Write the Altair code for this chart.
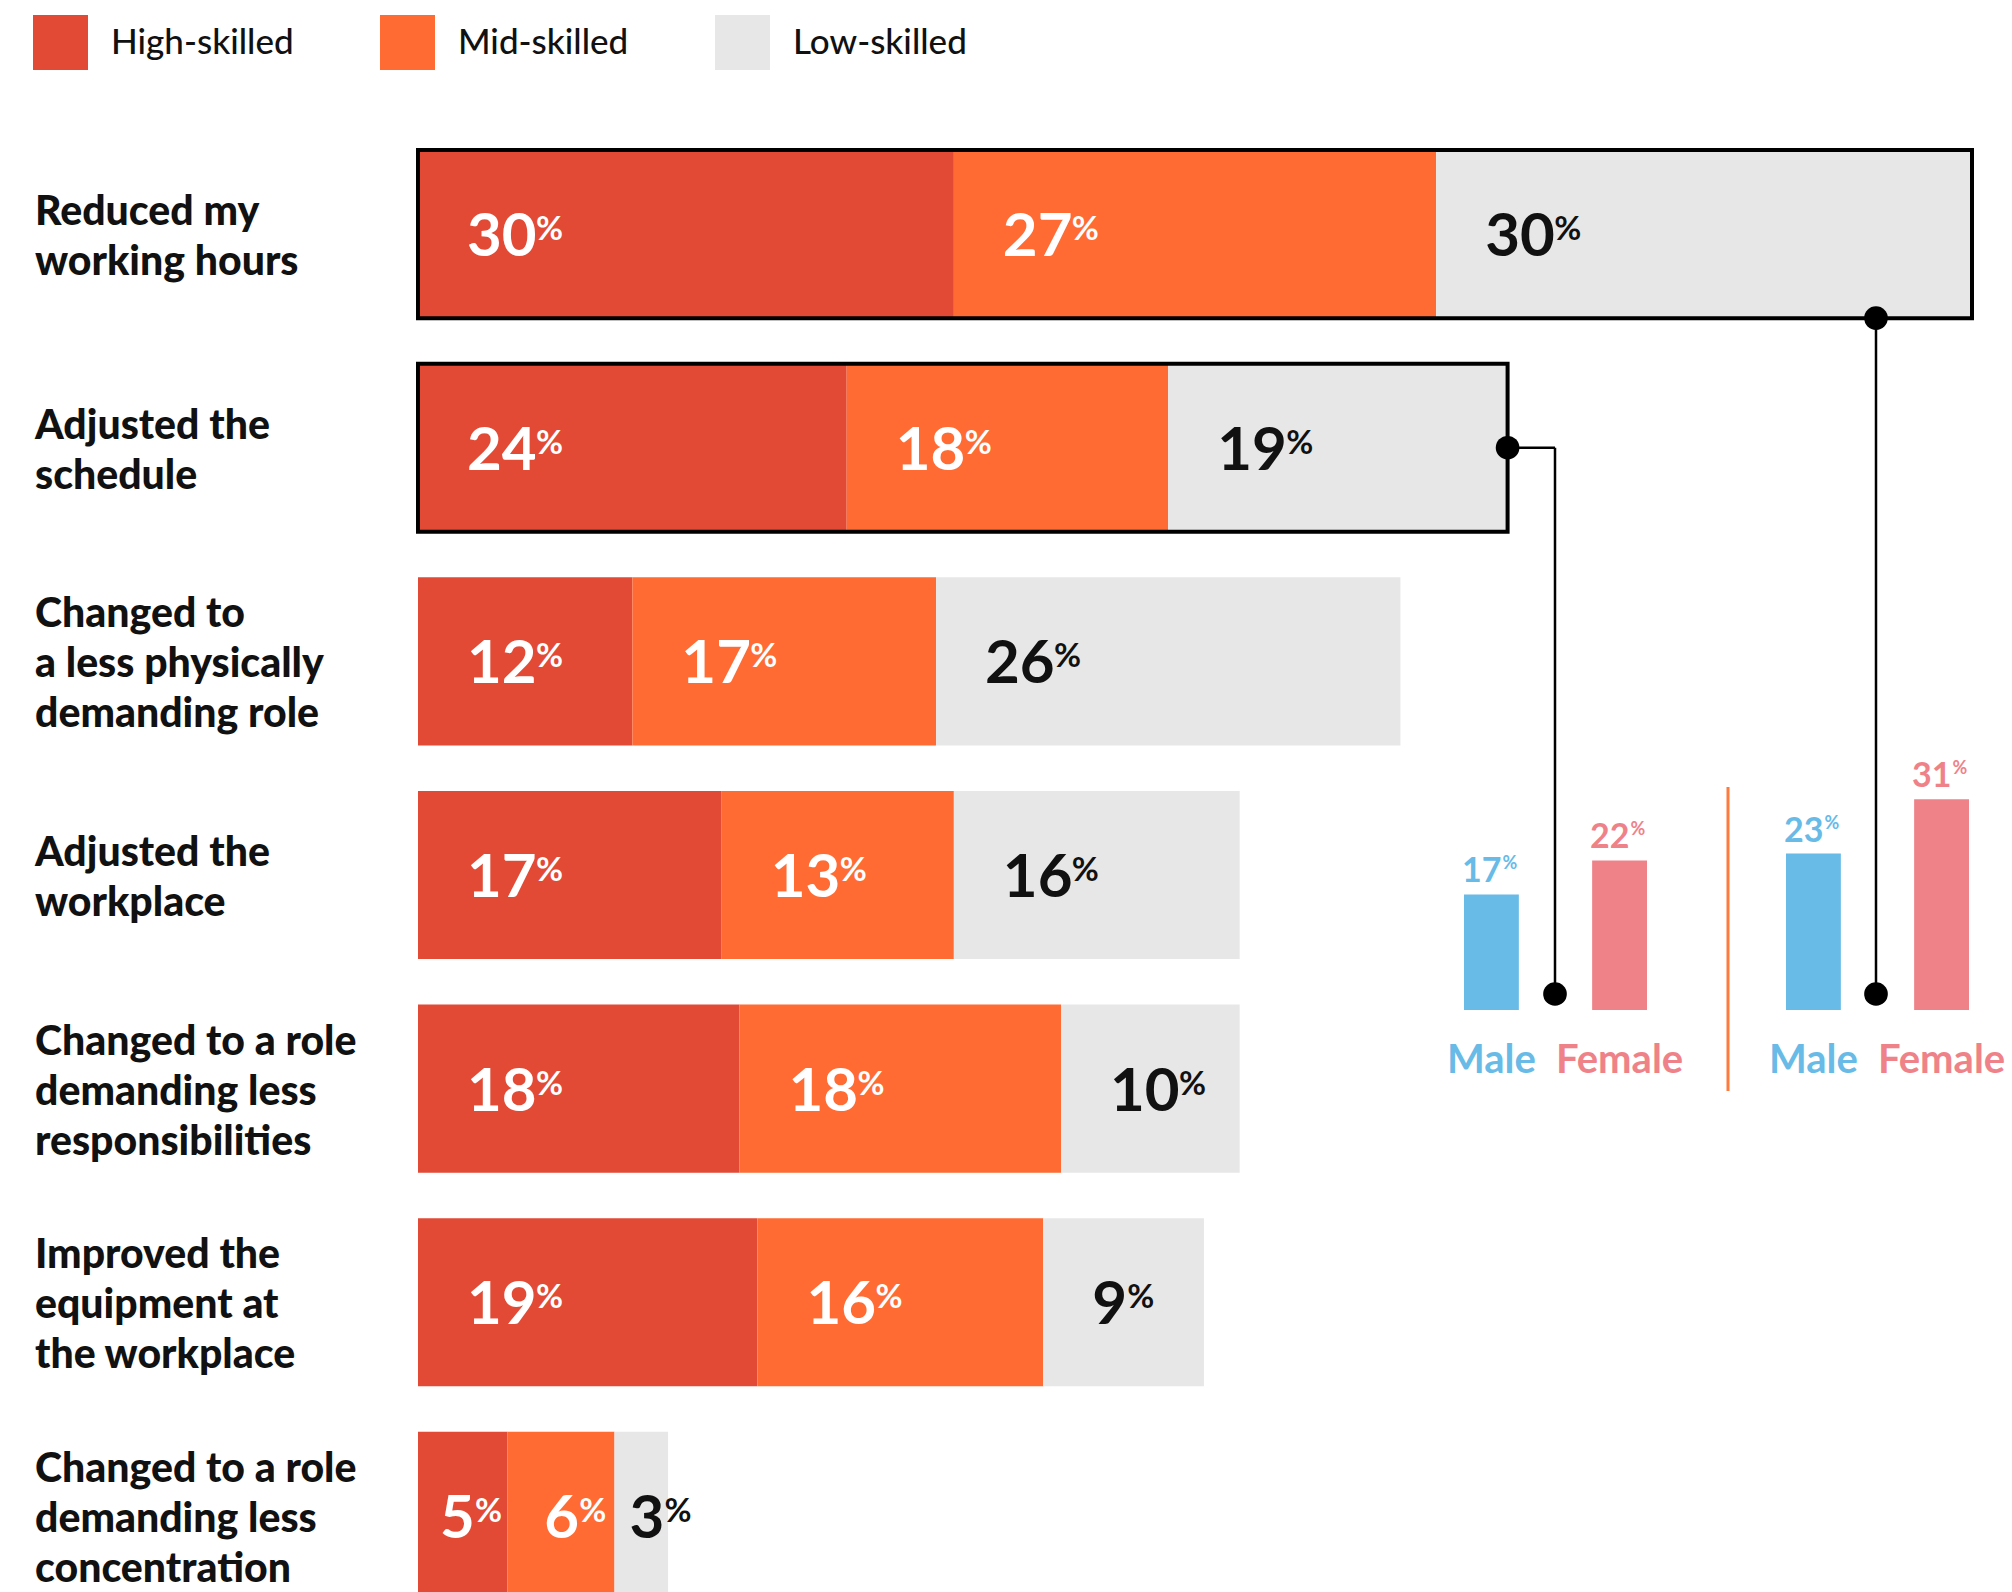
import altair as alt
import pandas as pd

# ---------------- data ----------------
categories = [
    "Reduced my\nworking hours",
    "Adjusted the\nschedule",
    "Changed to\na less physically\ndemanding role",
    "Adjusted the\nworkplace",
    "Changed to a role\ndemanding less\nresponsibilities",
    "Improved the\nequipment at\nthe workplace",
    "Changed to a role\ndemanding less\nconcentration",
]
skills = ["High-skilled", "Mid-skilled", "Low-skilled"]
high = [30, 24, 12, 17, 18, 19, 5]
mid = [27, 18, 17, 13, 18, 16, 6]
low = [30, 19, 26, 16, 10, 9, 3]
skill_colors = ["#E24A35", "#FF6B33", "#E7E7E7"]
highlighted = [categories[0], categories[1]]

sexes = ["Male", "Female"]
gender_groups = ["Adjusted the schedule", "Reduced my working hours"]
male_pct = [17, 23]
female_pct = [22, 31]
sex_colors = ["#68BAE7", "#EF8289"]

rows = []
for i, c in enumerate(categories):
    for j, (s, v) in enumerate(zip(skills, [high[i], mid[i], low[i]])):
        rows.append({"category": c, "row": i, "skill": s, "value": v, "order": j})
df = pd.DataFrame(rows)

labels_df = pd.DataFrame({"category": categories,
                          "nlines": [c.count("\n") + 1 for c in categories]})

grows = []
for k, g in enumerate(gender_groups):
    grows.append({"group": g, "sex": "Male", "value": male_pct[k]})
    grows.append({"group": g, "sex": "Female", "value": female_pct[k]})
gdf = pd.DataFrame(grows)

FONT = "Lato"
LAST = len(categories) - 1
BAND_HALF = 84
LINE_H = 50

# ---------------- scales ----------------
def X(field):
    return alt.X(field, scale=alt.Scale(domain=[0, 87], range=[418, 1972], nice=False, zero=True), axis=None)

def Y(**kw):
    return alt.Y("category:N",
                 scale=alt.Scale(type="band", domain=categories, range=[150, 1600],
                                 paddingInner=0.213, paddingOuter=0),
                 axis=None, **kw)

base = alt.Chart(df).transform_stack(
    stack="value", groupby=["category"], sort=[alt.SortField("order")], as_=["x0", "x1"]
)

bars = base.mark_bar().encode(
    x=X("x0:Q"), x2="x1:Q", y=Y(),
    color=alt.Color(
        "skill:N",
        scale=alt.Scale(domain=skills, range=skill_colors),
        legend=alt.Legend(
            orient="none", legendX=33, legendY=15, direction="horizontal", title=None,
            symbolType="square", symbolSize=3025, symbolStrokeWidth=0, symbolOpacity=1,
            labelFont=FONT, labelFontSize=35, labelFontWeight=500, labelColor="#111111",
            labelLimit=600, labelOffset=23, columnPadding=86, padding=0,
        ),
    ),
)

box = (
    alt.Chart(df)
    .transform_filter(alt.FieldOneOfPredicate(field="category", oneOf=highlighted))
    .transform_aggregate(total="sum(value)", groupby=["category"])
    .mark_bar(fillOpacity=0, stroke="black", strokeWidth=4)
    .encode(x=X("total:Q"), y=Y())
)

txtcol = alt.when(alt.datum.skill == "Low-skilled").then(alt.value("#111111")).otherwise(alt.value("white"))

def num_layer(expr, dx):
    return base.transform_filter(expr).mark_text(
        align="left", baseline="alphabetic", dx=dx, dy=22, font=FONT, fontSize=60, fontWeight="bold"
    ).encode(x=X("x0:Q"), y=Y(), text="value:Q", color=txtcol)

def pct_layer(expr, dx):
    return base.transform_filter(expr).mark_text(
        align="left", baseline="alphabetic", dx=dx, dy=6, font=FONT, fontSize=33, fontWeight="bold", text="%"
    ).encode(x=X("x0:Q"), y=Y(), color=txtcol)

num_layers = [
    num_layer(f"datum.row < {LAST}", 49),
    pct_layer(f"datum.row < {LAST} && datum.value >= 10", 118),
    pct_layer(f"datum.row < {LAST} && datum.value < 10", 84),
]
# narrow last row: tighter, individually placed labels
for s, pad in zip(skills, [22, 37, 15]):
    num_layers.append(num_layer(f"datum.row == {LAST} && datum.skill == '{s}'", pad))
    num_layers.append(pct_layer(f"datum.row == {LAST} && datum.skill == '{s}'", pad + 35))

def cat_label_layer(n):
    return alt.Chart(labels_df).transform_filter(alt.FieldEqualPredicate(field="nlines", equal=n)).mark_text(
        align="left", baseline="middle", lineBreak="\n", font=FONT, fontSize=41, fontWeight=900,
        lineHeight=LINE_H, color="#111111", dy=-(n - 1) * LINE_H / 2 + 4
    ).encode(x=alt.value(35), y=Y(), text="category:N")

cat_labels = [cat_label_layer(2), cat_label_layer(3)]


# ---------------- gender mini bars ----------------
def gender_layers(gname, rng):
    gx = alt.Scale(type="band", domain=sexes, range=rng, paddingInner=0.572, paddingOuter=0)
    gy = alt.Scale(domain=[0, 31], range=[1010, 799.2], nice=False, zero=True)
    gcol = alt.Color("sex:N", scale=alt.Scale(domain=sexes, range=sex_colors), legend=None)
    b = alt.Chart(gdf).transform_filter(alt.FieldEqualPredicate(field="group", equal=gname))
    X_ = alt.X("sex:N", scale=gx, axis=None)
    Y_ = alt.Y("value:Q", scale=gy, axis=None)
    gb = b.mark_bar().encode(x=X_, y=Y_, color=gcol)
    gn = b.mark_text(align="right", baseline="alphabetic", dx=10, dy=-12, font=FONT,
                     fontSize=34, fontWeight="bold").encode(x=X_, y=Y_, text="value:Q", color=gcol)
    gp = b.mark_text(align="left", baseline="alphabetic", dx=11, dy=-25, font=FONT,
                     fontSize=18, fontWeight="bold", text="%").encode(x=X_, y=Y_, color=gcol)
    gl = b.mark_text(align="center", baseline="alphabetic", font=FONT, fontSize=40,
                     fontWeight="bold").encode(x=X_, y=alt.value(1073), text="sex:N", color=gcol)
    return [gb, gn, gp, gl]

g1 = gender_layers(gender_groups[0], [1464, 1647])
g2 = gender_layers(gender_groups[1], [1786, 1969])

# ---------------- connectors ----------------
one = pd.DataFrame({"k": [0]})
divider = alt.Chart(one).mark_rule(color="#FF7A3D", strokeWidth=3).encode(
    x=alt.value(1728), y=alt.value(787), y2=alt.value(1091)
)

c1 = alt.Chart(pd.DataFrame({"category": [categories[0]]}))
c1_rule = c1.mark_rule(color="black", strokeWidth=2.5).encode(
    x=alt.value(1876), y=Y(bandPosition=1), y2=alt.value(994)
)
c1_dot = c1.mark_point(filled=True, size=560, color="black", opacity=1, yOffset=BAND_HALF).encode(
    x=alt.value(1876), y=Y()
)

tot = (
    alt.Chart(df)
    .transform_filter(alt.FieldEqualPredicate(field="category", equal=categories[1]))
    .transform_aggregate(total="sum(value)", groupby=["category"])
)
c2_h = tot.mark_rule(color="black", strokeWidth=2.5).encode(x=X("total:Q"), x2=alt.value(1555), y=Y())
c2_v = tot.mark_rule(color="black", strokeWidth=2.5).encode(x=alt.value(1555), y=Y(), y2=alt.value(994))
c2_dot = tot.mark_point(filled=True, size=560, color="black", opacity=1).encode(x=X("total:Q"), y=Y())

bdot1 = alt.Chart(one).mark_point(filled=True, size=560, color="black", opacity=1).encode(
    x=alt.value(1555), y=alt.value(994)
)
bdot2 = alt.Chart(one).mark_point(filled=True, size=560, color="black", opacity=1).encode(
    x=alt.value(1876), y=alt.value(994)
)

layers = [bars, box] + num_layers + cat_labels + g1 + g2 + [
    divider, c1_rule, c2_h, c2_v, c1_dot, c2_dot, bdot1, bdot2
]

chart = (
    alt.layer(*layers)
    .resolve_scale(x="independent", y="independent", color="independent")
    .properties(width=2012, height=1592, autosize=alt.AutoSizeParams(type="none"), padding=0,
                background="white")
    .configure_view(stroke=None)
)

chart.save("out.html", embed_options={"renderer": "svg", "actions": False})
